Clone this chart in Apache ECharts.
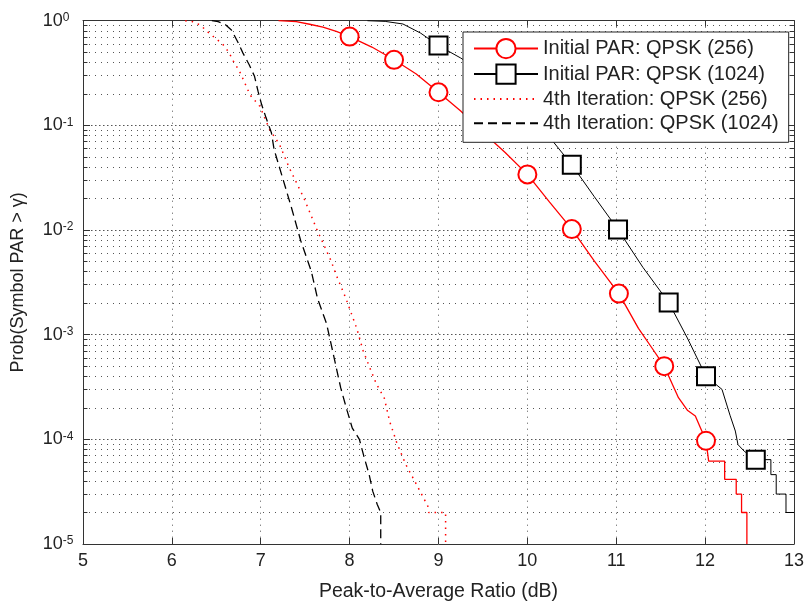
<!DOCTYPE html>
<html>
<head>
<meta charset="utf-8">
<script src="https://cdn.jsdelivr.net/npm/echarts@6/dist/echarts.min.js"></script>
<style>
  html, body { margin: 0; padding: 0; background: #fff; }
  #chart { width: 807px; height: 607px; }
</style>
</head>
<body>
<div id="chart"></div>
<script>
// Axis ticks
const xTicks = [5, 6, 7, 8, 9, 10, 11, 12, 13];
const decadeExponents = [-5, -4, -3, -2, -1, 0];

const seriesNames = [
  'Initial PAR: QPSK (256)',
  'Initial PAR: QPSK (1024)',
  '4th Iteration: QPSK (256)',
  '4th Iteration: QPSK (1024)'
];

// CCDF curves: [PAR in dB, probability]
const initial256Curve = [
  [7.2, 1.0], [7.4, 0.98], [7.55, 0.925], [7.7, 0.87], [7.85, 0.79],
  [8.25, 0.56], [8.75, 0.31], [9.25, 0.137], [9.75, 0.055], [10.25, 0.0185],
  [10.75, 0.0051], [11.25, 0.00115], [11.4, 0.00075], [11.7, 0.00025],
  [11.8, 0.00019], [11.89, 0.000167], [12.04, 0.000062], [12.22, 0.000062],
  [12.22, 0.0000415], [12.35, 0.0000415], [12.35, 0.00003], [12.41, 0.00003],
  [12.41, 0.00002], [12.47, 0.00002], [12.47, 0.00001]
];
const initial256Markers = [
  [8.0, 0.705], [8.5, 0.423], [9.0, 0.207], [9.5, 0.086], [10.0, 0.034],
  [10.5, 0.0102], [11.03, 0.00247], [11.54, 0.0005], [12.01, 0.000097]
];

const initial1024Curve = [
  [8.2, 1.0], [8.4, 0.985], [8.6, 0.93], [8.8, 0.76], [9.25, 0.44],
  [9.75, 0.21], [10.25, 0.077], [10.75, 0.021], [11.3, 0.0044],
  [11.8, 0.00093], [12.19, 0.0003], [12.28, 0.00017], [12.34, 0.00012],
  [12.37, 0.000089], [12.44, 0.000077], [12.74, 0.000064], [12.74, 0.000046],
  [12.8, 0.000046], [12.8, 0.00003], [12.91, 0.00003], [12.91, 0.00002],
  [13.0, 0.00002]
];
const initial1024Markers = [
  [9.0, 0.578], [9.5, 0.32], [10.0, 0.13], [10.5, 0.042], [11.02, 0.0101],
  [11.59, 0.00203], [12.01, 0.0004], [12.57, 0.000064]
];

const iter256Curve = [
  [6.15, 1.0], [6.23, 0.98], [6.32, 0.91], [6.4, 0.785], [6.48, 0.69],
  [6.57, 0.6], [6.64, 0.5], [6.69, 0.414], [6.76, 0.33], [6.82, 0.255],
  [6.88, 0.195], [6.99, 0.152], [7.1, 0.091], [7.21, 0.066], [7.32, 0.0395],
  [7.49, 0.0198], [7.63, 0.0102], [7.79, 0.0051], [7.85, 0.0037],
  [7.96, 0.0022], [8.08, 0.00115], [8.15, 0.00071], [8.22, 0.0005],
  [8.3, 0.00034], [8.39, 0.000248], [8.45, 0.000149], [8.53, 0.000093],
  [8.63, 0.000058], [8.76, 0.000036], [8.88, 0.000023], [8.89, 0.00002],
  [9.08, 0.00002], [9.08, 0.00001]
];

const iter1024Curve = [
  [6.45, 1.0], [6.52, 0.98], [6.6, 0.92], [6.67, 0.816], [6.74, 0.63],
  [6.8, 0.49], [6.87, 0.379], [6.93, 0.294], [6.97, 0.211], [7.01, 0.158],
  [7.06, 0.118], [7.12, 0.085], [7.15, 0.059], [7.25, 0.0306], [7.34, 0.017],
  [7.45, 0.0079], [7.57, 0.004], [7.64, 0.0022], [7.74, 0.00128],
  [7.81, 0.00069], [7.9, 0.00031], [7.97, 0.00019], [8.03, 0.000128],
  [8.11, 0.0001], [8.16, 0.000069], [8.22, 0.000046], [8.26, 0.000032],
  [8.31, 0.000024], [8.35, 0.00002], [8.35, 0.00001]
];

const FONT = '"Liberation Sans", Arial, Helvetica, sans-serif';
const TEXT = '#222';
const AXIS = '#333';

// Curve points drawn without symbols, marker points with the series symbol, in x order
function withMarkers(curve, markers) {
  const pts = curve.map(p => ({ value: p, symbol: 'none' }))
    .concat(markers.map(m => ({ value: m })));
  return pts.map((p, i) => [p, i])
    .sort((a, b) => (a[0].value[0] - b[0].value[0]) || (a[1] - b[1]))
    .map(a => a[0]);
}

// Minor log positions 2..9 within each decade
const minorValues = [];
decadeExponents.slice(0, -1).forEach(e => {
  for (let k = 2; k <= 9; k++) minorValues.push(Number((k * Math.pow(10, e)).toPrecision(3)));
});

const gridMarks = [];
minorValues.forEach(v => {
  gridMarks.push({ yAxis: v, lineStyle: { type: [1, 5], color: '#555', width: 1 } });
  gridMarks.push([{ coord: [5, v], lineStyle: { type: 'solid', color: AXIS, width: 1 } }, { coord: [5.05, v] }]);
  gridMarks.push([{ coord: [12.95, v], lineStyle: { type: 'solid', color: AXIS, width: 1 } }, { coord: [13, v] }]);
});

const chart = echarts.init(document.getElementById('chart'), null, { renderer: 'canvas' });

// Legend entries: the iteration curves show only their line pattern
const legendData = seriesNames.map((n, i) => i < 2 ? { name: n } : { name: n, itemStyle: { opacity: 0 } });

const option = {
  backgroundColor: '#fff',
  animation: false,
  textStyle: { fontFamily: FONT },
  grid: { left: 83, right: 10.3, top: 20.7, bottom: 60.3, containLabel: false },
  legend: {
    data: legendData,
    orient: 'vertical',
    left: 463,
    top: 32,
    padding: [6, 10, 9, 10],
    itemWidth: 64,
    itemHeight: 24,
    itemGap: 4.3,
    backgroundColor: '#fff',
    borderColor: '#222',
    borderWidth: 1,
    selectedMode: false,
    textStyle: { fontSize: 20, color: TEXT, fontFamily: FONT }
  },
  xAxis: [
    {
      type: 'value', min: xTicks[0], max: xTicks[xTicks.length - 1], interval: 1,
      position: 'bottom',
      axisLine: { show: true, onZero: false, lineStyle: { color: AXIS, width: 1 } },
      axisTick: { show: true, inside: true, length: 6, lineStyle: { color: AXIS } },
      axisLabel: { fontSize: 18, color: TEXT, margin: 8, fontFamily: FONT },
      splitLine: { show: true, lineStyle: { color: '#555', type: [1, 5], width: 1 } },
      name: 'Peak-to-Average Ratio (dB)',
      nameLocation: 'middle',
      nameGap: 38,
      nameTextStyle: { fontSize: 19.5, color: TEXT, fontFamily: FONT }
    },
    {
      type: 'value', min: xTicks[0], max: xTicks[xTicks.length - 1], interval: 1,
      position: 'top',
      axisLine: { show: true, onZero: false, lineStyle: { color: AXIS, width: 1 } },
      axisTick: { show: true, inside: true, length: 6, lineStyle: { color: AXIS } },
      axisLabel: { show: false },
      splitLine: { show: false }
    }
  ],
  yAxis: [
    {
      type: 'log', logBase: 10, min: Math.pow(10, decadeExponents[0]), max: 1,
      splitNumber: 5,
      position: 'left',
      axisLine: { show: true, onZero: false, lineStyle: { color: AXIS, width: 1 } },
      axisTick: { show: true, inside: true, length: 7, lineStyle: { color: AXIS } },
      axisLabel: {
        align: 'left',
        margin: 40.3,
        color: TEXT,
        formatter: v => '{b|10}{s|' + Math.round(Math.log10(v)) + '}',
        rich: {
          b: { fontSize: 18, lineHeight: 18, verticalAlign: 'bottom', color: TEXT, fontFamily: FONT },
          s: { fontSize: 12, lineHeight: 12, verticalAlign: 'top', padding: [0, 0, 10, 0], color: TEXT, fontFamily: FONT }
        }
      },
      splitLine: { show: true, lineStyle: { color: '#555', type: [1.5, 2.5], width: 1 } },
      name: 'Prob(Symbol PAR > γ)',
      nameLocation: 'middle',
      nameGap: 56,
      nameTextStyle: { fontSize: 18, color: TEXT, fontFamily: FONT }
    },
    {
      type: 'log', logBase: 10, min: Math.pow(10, decadeExponents[0]), max: 1,
      splitNumber: 5,
      position: 'right',
      axisLine: { show: true, onZero: false, lineStyle: { color: AXIS, width: 1 } },
      axisTick: { show: true, inside: true, length: 7, lineStyle: { color: AXIS } },
      axisLabel: { show: false },
      splitLine: { show: false }
    }
  ],
  series: [
    {
      type: 'line',
      data: [],
      silent: true,
      markLine: {
        silent: true,
        z: 1,
        precision: 10,
        animation: false,
        symbol: ['none', 'none'],
        label: { show: false },
        emphasis: { disabled: true },
        data: gridMarks
      }
    },
    {
      name: seriesNames[0],
      type: 'line',
      data: withMarkers(initial256Curve, initial256Markers),
      symbol: 'emptyCircle',
      symbolSize: 18,
      showSymbol: true,
      lineStyle: { color: '#ff0000', width: 1.3 },
      itemStyle: { color: '#ff0000', borderWidth: 1.5 },
      emphasis: { disabled: true },
      z: 3
    },
    {
      name: seriesNames[1],
      type: 'line',
      data: withMarkers(initial1024Curve, initial1024Markers),
      symbol: 'emptyRect',
      symbolSize: 18,
      showSymbol: true,
      lineStyle: { color: '#000', width: 1 },
      itemStyle: { color: '#000', borderWidth: 1.5 },
      emphasis: { disabled: true },
      z: 3
    },
    {
      name: seriesNames[2],
      type: 'line',
      data: iter256Curve,
      symbol: 'none',
      showSymbol: false,
      lineStyle: { color: '#ff0000', width: 1.5, type: [1.5, 5] },
      itemStyle: { color: '#ff0000' },
      emphasis: { disabled: true },
      z: 3
    },
    {
      name: seriesNames[3],
      type: 'line',
      data: iter1024Curve,
      symbol: 'none',
      showSymbol: false,
      lineStyle: { color: '#000', width: 1.3, type: [9, 5] },
      itemStyle: { color: '#000' },
      emphasis: { disabled: true },
      z: 3
    }
  ]
};

chart.setOption(option);
</script>
</body>
</html>
